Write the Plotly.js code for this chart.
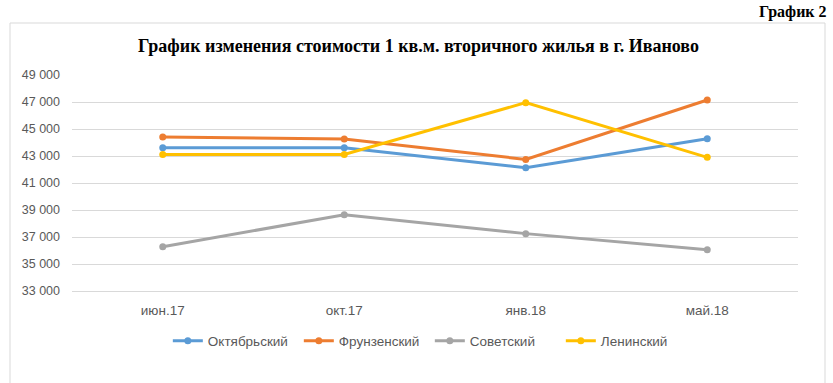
<!DOCTYPE html>
<html>
<head>
<meta charset="utf-8">
<script src="https://cdn.plot.ly/plotly-3.0.1.min.js"></script>
<style>html,body{margin:0;padding:0;background:#fff;}#chart{width:833px;height:383px;}</style>
</head>
<body>
<div id="chart"></div>
<script>
var categories = ["июн.17", "окт.17", "янв.18", "май.18"];
var oktyabrsky = [43620, 43610, 42130, 44280];
var frunzensky = [44410, 44260, 42750, 47150];
var sovetsky = [36280, 38650, 37250, 36060];
var leninsky = [43120, 43120, 46950, 42900];
var seriesNames = ["Октябрьский", "Фрунзенский", "Советский", "Ленинский"];
var seriesColors = ["#5B9BD5", "#ED7D31", "#A5A5A5", "#FFC000"];
var yTicks = [33000, 35000, 37000, 39000, 41000, 43000, 45000, 47000, 49000];
var yTickText = ["33 000", "35 000", "37 000", "39 000", "41 000", "43 000", "45 000", "47 000", "49 000"];
var chartTitle = "График изменения стоимости 1 кв.м. вторичного жилья в г. Иваново";
var figureLabel = "График 2";

var allSeries = [oktyabrsky, frunzensky, sovetsky, leninsky];
var traces = allSeries.map(function(vals, i) {
  return {
    x: categories, y: vals, type: "scatter", mode: "lines+markers",
    name: seriesNames[i],
    line: {color: seriesColors[i], width: 3},
    marker: {color: seriesColors[i], size: 7}
  };
});

var L = 72, R = 798, T = 75, B = 293, W = 833, H = 383;
function px(x){ return (x - L) / (R - L); }
function py(y){ return (B - y) / (B - T); }

var layout = {
  width: W, height: H,
  margin: {l: L, r: W - R, t: T, b: H - B},
  paper_bgcolor: "#fff", plot_bgcolor: "#fff",
  showlegend: true,
  font: {family: "Liberation Sans, Arial, sans-serif", size: 12.5, color: "#595959"},
  xaxis: {type: "category", range: [-0.5, 3.5], showgrid: false, zeroline: false,
          showline: false, ticks: "", ticklabelstandoff: 7,
          tickfont: {size: 13.5, color: "#595959"}, fixedrange: true},
  yaxis: {range: [32852, 49000], tickvals: yTicks, ticktext: yTickText,
          showgrid: true, gridcolor: "#D9D9D9", gridwidth: 1, zeroline: false,
          showline: false, ticks: "", ticklabelstandoff: 11,
          tickfont: {size: 12.5, color: "#595959"}, fixedrange: true},
  legend: {orientation: "h", xref: "container", x: 0.516, xanchor: "center",
           yref: "container", y: 1 - 341 / H, yanchor: "middle",
           font: {size: 13.5, color: "#595959"}, itemwidth: 30, tracegroupgap: 0,
           entrywidth: 86, entrywidthmode: "pixels"},
  shapes: [{type: "path", xref: "paper", yref: "paper",
            path: "M " + px(10) + "," + py(390) + " L " + px(10) + "," + py(23) +
                  " L " + px(825) + "," + py(23) + " L " + px(825) + "," + py(390),
            line: {color: "#D9D9D9", width: 1}}],
  annotations: [
    {text: "<b>" + chartTitle + "</b>", xref: "paper", yref: "paper",
     x: px(418), y: py(46), xanchor: "center", yanchor: "middle", showarrow: false,
     font: {family: "Liberation Serif, Times New Roman, serif", size: 18, color: "#000"}},
    {text: "<b>" + figureLabel + "</b>", xref: "paper", yref: "paper",
     x: px(829), y: py(12), xanchor: "right", yanchor: "middle", showarrow: false,
     font: {family: "Liberation Serif, Times New Roman, serif", size: 16, color: "#000"}}
  ]
};

Plotly.newPlot("chart", traces, layout, {displayModeBar: false, staticPlot: true});
</script>
</body>
</html>
